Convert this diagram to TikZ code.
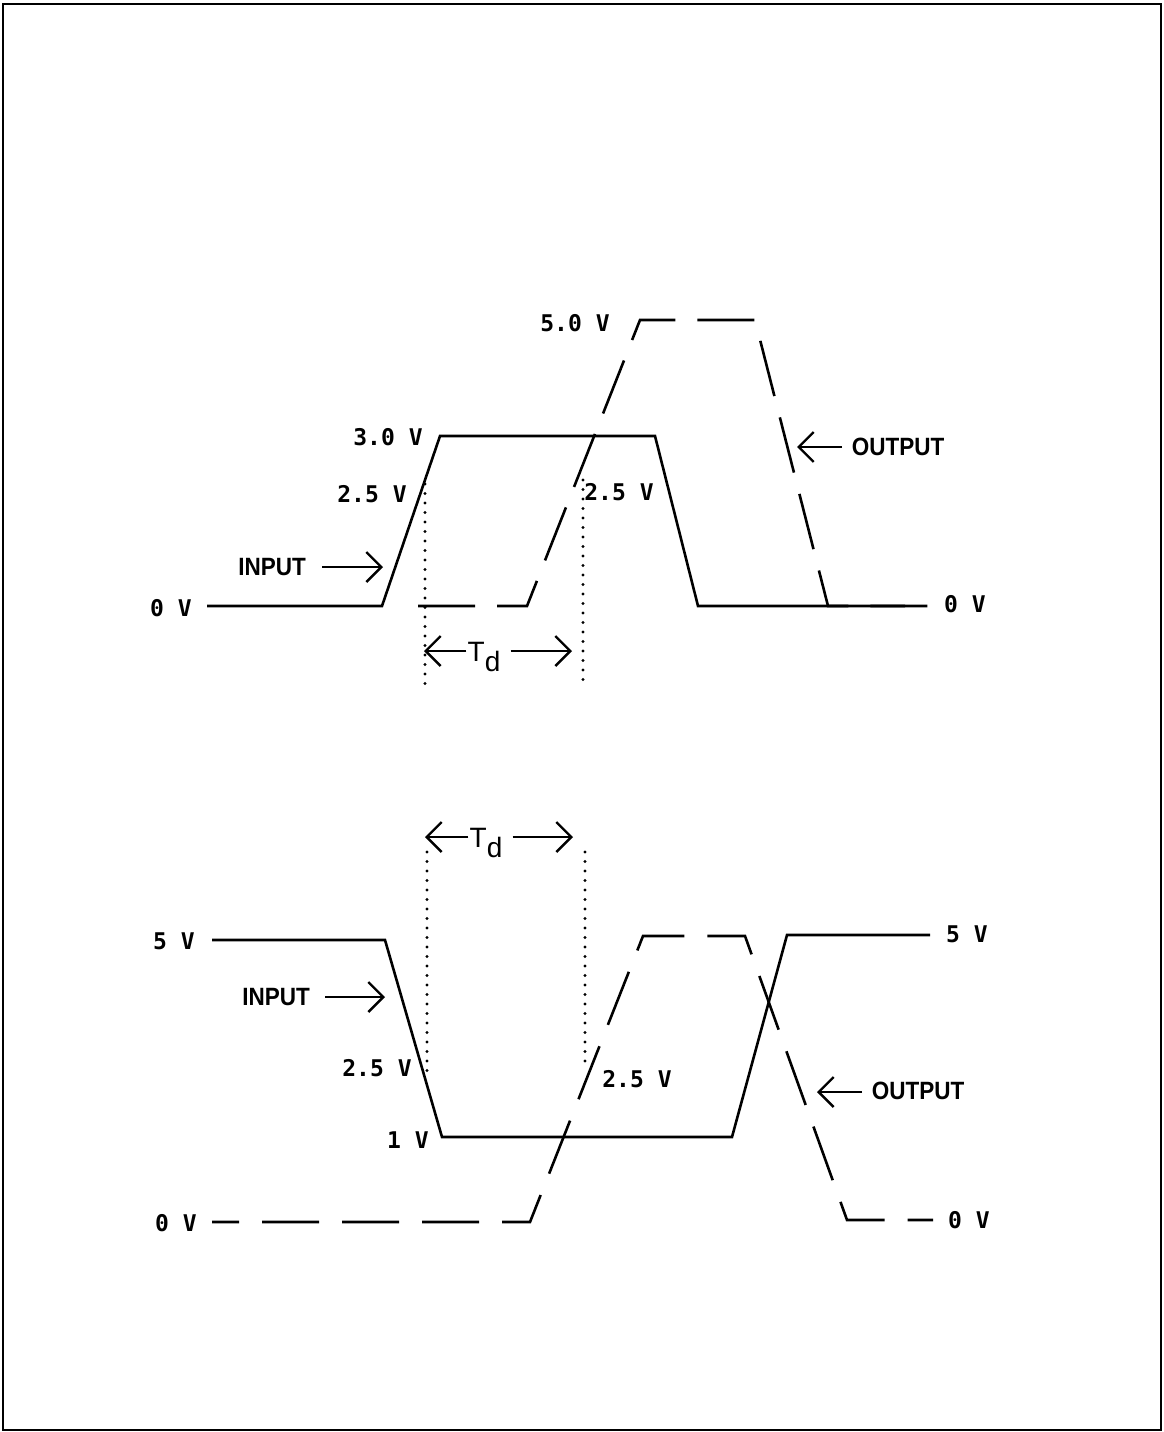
\documentclass[tikz,border=0pt]{standalone}
\usepackage{fontspec}
\usetikzlibrary{arrows.meta}
\newfontfamily\labfont{DejaVu Sans Mono}
\newfontfamily\tagfont{Liberation Sans}
\begin{document}
\begin{tikzpicture}[x=1pt,y=-1pt,
  wave/.style={line width=2.6pt,line join=miter},
  outwave/.style={wave,dash pattern=on 57pt off 22pt},
  guide/.style={line width=3.4pt,dash pattern=on 0pt off 9.5pt,line cap=round},
  lab/.style={font=\labfont\bfseries\fontsize{23}{23}\selectfont,inner sep=0pt},
  tag/.style={font=\tagfont\bfseries\fontsize{25}{25}\selectfont,inner sep=0pt,xscale=0.9},
  tdlab/.style={font=\tagfont\fontsize{28}{28}\selectfont,inner sep=0pt},
  ptr/.style={line width=2.4pt,-{Straight Barb[length=15pt,width=30pt]}},
  frame/.style={line width=2.8pt}]
\useasboundingbox (0,0) rectangle (1163,1432);
\draw[frame] (3,4) rectangle (1161,1430);

% ===== Top diagram =====
\coordinate (a1) at (207,606);
\coordinate (a2) at (382,606);
\coordinate (a3) at (440,436);
\coordinate (a4) at (655,436);
\coordinate (a5) at (698,606);
\coordinate (a6) at (905,606);
\draw[wave] (a1) -- (a2) -- (a3) -- (a4) -- (a5) -- (a6);

\coordinate (b1) at (418,606);
\coordinate (b2) at (527,606);
\coordinate (b3) at (640,320);
\coordinate (b4) at (755,320);
\coordinate (b5) at (828,606);
\coordinate (b6) at (942,606);
\draw[outwave] (b1) -- (b2) -- (b3) -- (b4) -- (b5) -- (b6);

\node[lab] (t0v) at (171,608) {0 V};
\node[lab] (t30) at (388,437) {3.0 V};
\node[lab] (t25a) at (372,494) {2.5 V};
\node[lab] (t50) at (575,323) {5.0 V};
\node[lab] (t25b) at (619,492) {2.5 V};
\node[lab] (t0vr) at (965,604) {0 V};
\node[tag] (tin) at (272,567) {INPUT};
\node[tag] (tout) at (898,447) {OUTPUT};
\coordinate (tinTip) at (383,567);
\coordinate (toutTip) at (797,447);
\draw[ptr] (322,567) -- (tinTip);
\draw[ptr] (842,447) -- (toutTip);

\coordinate (g1t) at (425,484);
\coordinate (g1b) at (425,684);
\coordinate (g2t) at (583,480);
\coordinate (g2b) at (583,684);
\draw[guide] (g1t) -- (g1b);
\draw[guide] (g2t) -- (g2b);

\node[tdlab] (td1) at (484,657) {T\raisebox{-10pt}{d}};
\coordinate (td1L) at (424,651);
\coordinate (td1R) at (572,651);
\draw[ptr] ([xshift=-1pt]td1.west |- td1L) -- (td1L);
\draw[ptr] ([xshift=10pt]td1.east |- td1R) -- (td1R);

% ===== Bottom diagram =====
\coordinate (c1) at (212,940);
\coordinate (c2) at (385,940);
\coordinate (c3) at (442,1137);
\coordinate (c4) at (732,1137);
\coordinate (c5) at (787,935);
\coordinate (c6) at (930,935);
\draw[wave] (c1) -- (c2) -- (c3) -- (c4) -- (c5) -- (c6);

\coordinate (d1) at (212,1222);
\coordinate (d2) at (530,1222);
\coordinate (d3) at (643,936);
\coordinate (d4) at (745,936);
\coordinate (d5) at (847,1220);
\coordinate (d6) at (933,1220);
\draw[wave,dash pattern=on 57pt off 23pt,dash phase=30pt] (d1) -- (d2) -- (d3) -- (d4) -- (d5) -- (d6);

\node[lab] (b5v) at (174,941) {5 V};
\node[lab] (b25a) at (377,1068) {2.5 V};
\node[lab] (b1v) at (408,1140) {1 V};
\node[lab] (b0v) at (176,1223) {0 V};
\node[lab] (b5vr) at (967,934) {5 V};
\node[lab] (b25b) at (637,1079) {2.5 V};
\node[lab] (b0vr) at (969,1220) {0 V};
\node[tag] (bin) at (276,997) {INPUT};
\node[tag] (bout) at (918,1091) {OUTPUT};
\coordinate (binTip) at (385,997);
\coordinate (boutTip) at (817,1092);
\draw[ptr] (325,997) -- (binTip);
\draw[ptr] (862,1092) -- (boutTip);

\coordinate (h1t) at (427,852);
\coordinate (h1b) at (427,1078);
\coordinate (h2t) at (585,852);
\coordinate (h2b) at (585,1068);
\draw[guide] (h1t) -- (h1b);
\draw[guide] (h2t) -- (h2b);

\node[tdlab] (td2) at (486,843) {T\raisebox{-10pt}{d}};
\coordinate (td2L) at (425,837);
\coordinate (td2R) at (573,837);
\draw[ptr] ([xshift=-1pt]td2.west |- td2L) -- (td2L);
\draw[ptr] ([xshift=10pt]td2.east |- td2R) -- (td2R);
\end{tikzpicture}
\end{document}
